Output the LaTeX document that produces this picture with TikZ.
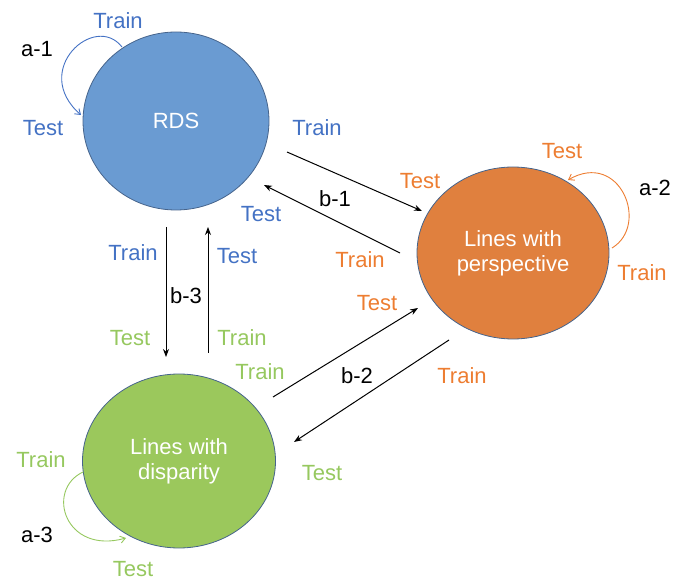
\documentclass[tikz,border=0pt]{standalone}
\usepackage{fontspec}
\setmainfont{Liberation Sans}
\usetikzlibrary{shapes.geometric,arrows.meta}

\definecolor{rdsfill}{RGB}{106,155,210}
\definecolor{perfill}{RGB}{224,128,62}
\definecolor{disfill}{RGB}{155,200,92}
\definecolor{rim}{RGB}{70,100,140}
\definecolor{rdstext}{RGB}{68,114,196}
\definecolor{pertext}{RGB}{237,125,49}
\definecolor{distext}{RGB}{150,200,95}

\tikzset{
  state/.style={ellipse, draw=rim, line width=0.8pt, inner sep=0pt,
    text=white, align=center, font=\fontsize{22}{25}\selectfont},
  lbl/.style={inner sep=0pt, font=\fontsize{22}{25}\selectfont},
  link/.style={line width=1pt, -{Stealth[length=8pt,width=6pt]}},
  selfloop/.style={line width=0.9pt, -{Straight Barb[length=5pt,width=7pt]}}
}

\begin{document}
\begin{tikzpicture}[x=1pt,y=-1pt]
\useasboundingbox (0,0) rectangle (673,580);

% the three data sets
\node[state, fill=rdsfill, minimum width=186pt, minimum height=178pt] (rds) at (176,121) {RDS};
\node[state, fill=perfill, minimum width=192pt, minimum height=172pt] (per) at (513,253) {Lines with\\perspective};
\node[state, fill=disfill, minimum width=193pt, minimum height=174pt] (dis) at (179,461) {Lines with\\disparity};

% end points of the transfer arrows
\coordinate (r1s) at (287,152); \coordinate (r1e) at (422,211);
\coordinate (p1s) at (400,253); \coordinate (p1e) at (264,185);
\coordinate (r3s) at (166,227); \coordinate (r3e) at (166,357);
\coordinate (d3s) at (208,353); \coordinate (d3e) at (208,227);
\coordinate (d2s) at (273,397); \coordinate (d2e) at (418,308);
\coordinate (p2s) at (449,340); \coordinate (p2e) at (294,442);

\draw[link] (r1s) -- (r1e);
\draw[link] (p1s) -- (p1e);
\draw[link] (r3s) -- (r3e);
\draw[link] (d3s) -- (d3e);
\draw[link] (d2s) -- (d2e);
\draw[link] (p2s) -- (p2e);

% self loops
\coordinate (a1s) at (122,47); \coordinate (a1e) at (81,115);
\coordinate (a2s) at (612,248); \coordinate (a2e) at (568,180);
\coordinate (a3s) at (83,472); \coordinate (a3e) at (126,538);
\draw[selfloop, rdstext] (a1s) .. controls (95,12) and (30,70) .. (a1e);
\draw[selfloop, pertext] (a2s) .. controls (650,225) and (620,150) .. (a2e);
\draw[selfloop, distext] (a3s) .. controls (45,490) and (65,555) .. (a3e);

% loop names
\node[lbl] (la1) at (37,49) {a-1};
\node[lbl] (la2) at (655,188) {a-2};
\node[lbl] (la3) at (37,535) {a-3};
\node[lbl] (lb1) at (335,199) {b-1};
\node[lbl] (lb2) at (357,376) {b-2};
\node[lbl] (lb3) at (186,296) {b-3};

% RDS labels
\node[lbl, text=rdstext] (t1) at (118,21) {Train};
\node[lbl, text=rdstext] (t2) at (43,128) {Test};
\node[lbl, text=rdstext] (t3) at (317,128) {Train};
\node[lbl, text=rdstext] (t4) at (261,214) {Test};
\node[lbl, text=rdstext] (t5) at (133,253) {Train};
\node[lbl, text=rdstext] (t6) at (237,256) {Test};

% perspective labels
\node[lbl, text=pertext] (t7) at (420,181) {Test};
\node[lbl, text=pertext] (t8) at (562,151) {Test};
\node[lbl, text=pertext] (t9) at (642,273) {Train};
\node[lbl, text=pertext] (t10) at (360,260) {Train};
\node[lbl, text=pertext] (t11) at (377,303) {Test};
\node[lbl, text=pertext] (t12) at (462,376) {Train};

% disparity labels
\node[lbl, text=distext] (t13) at (130,338) {Test};
\node[lbl, text=distext] (t14) at (242,338) {Train};
\node[lbl, text=distext] (t15) at (260,372) {Train};
\node[lbl, text=distext] (t16) at (41,460) {Train};
\node[lbl, text=distext] (t17) at (322,473) {Test};
\node[lbl, text=distext] (t18) at (133,569) {Test};
\end{tikzpicture}
\end{document}
